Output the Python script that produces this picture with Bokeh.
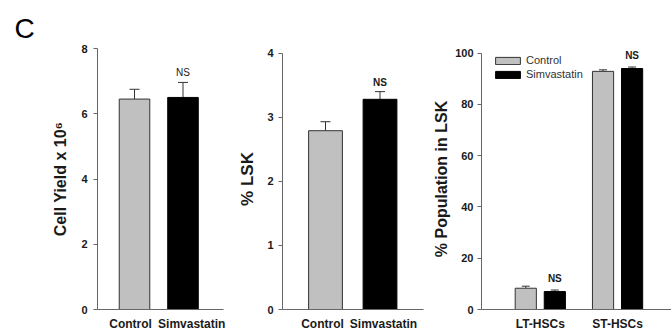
from bokeh.plotting import figure
from bokeh.models import (Range1d, FixedTicker, Whisker, TeeHead, ColumnDataSource,
                          LabelSet)
from bokeh.layouts import row
from bokeh.embed import file_html
from bokeh.resources import INLINE
from bokeh.core.properties import value

# ---------------- data ----------------
yield_cats = ["Control", "Simvastatin"]
yield_mean = [6.45, 6.50]
yield_err = [0.30, 0.46]
yield_sig = ["", "NS"]
yield_ticks = [0, 2, 4, 6, 8]

lsk_cats = ["Control", "Simvastatin"]
lsk_mean = [2.79, 3.28]
lsk_err = [0.14, 0.12]
lsk_sig = ["", "NS"]
lsk_ticks = [0, 1, 2, 3, 4]

pop_groups = ["LT-HSCs", "ST-HSCs"]
pop_series = ["Control", "Simvastatin"]
pop_control = [8.3, 92.9]
pop_control_err = [0.8, 0.6]
pop_simva = [7.0, 94.0]
pop_simva_err = [0.6, 0.6]
pop_sig = ["NS", "NS"]
pop_ticks = [0, 20, 40, 60, 80, 100]

FONT = "Liberation Sans"
CTRL_FILL = "#c0c0c0"
EDGE = "#333333"
AXIS = "#666666"
TXT = "#1a1a1a"
H = 333
TOP = 48
BOTTOM = 22
FRAME_H = H - TOP - BOTTOM


def base_fig(width, left, right, xr, y_end_px, ticks, ylabel, title_size,
             label_standoff, title_standoff):
    # y range chosen so that the top tick sits y_end_px below the frame top
    top_val = ticks[-1] * FRAME_H / (FRAME_H - y_end_px)
    p = figure(width=width, height=H, x_range=xr, y_range=Range1d(0, top_val),
               output_backend="svg", toolbar_location=None,
               min_border_left=left, min_border_right=right,
               min_border_top=TOP, min_border_bottom=BOTTOM)
    p.grid.visible = False
    p.outline_line_color = None
    p.background_fill_color = "white"
    p.border_fill_color = "white"
    ya = p.yaxis[0]
    ya.ticker = FixedTicker(ticks=ticks)
    ya.bounds = (ticks[0], ticks[-1])
    ya.minor_tick_line_color = None
    ya.major_tick_in = 0
    ya.major_tick_out = 4
    ya.axis_line_color = AXIS
    ya.major_tick_line_color = AXIS
    ya.major_label_text_font = FONT
    ya.major_label_text_font_style = "bold"
    ya.major_label_text_font_size = "11px"
    ya.major_label_text_color = TXT
    ya.major_label_standoff = label_standoff
    ya.axis_label = ylabel
    ya.axis_label_text_font = FONT
    ya.axis_label_text_font_style = "bold"
    ya.axis_label_text_font_size = title_size
    ya.axis_label_text_color = TXT
    ya.axis_label_standoff = title_standoff
    xa = p.xaxis[0]
    xa.minor_tick_line_color = None
    xa.major_tick_in = 0
    xa.major_tick_out = 0
    xa.axis_line_color = AXIS
    xa.major_label_text_font = FONT
    xa.major_label_text_font_style = "bold"
    xa.major_label_text_font_size = "12px"
    xa.major_label_text_color = TXT
    xa.major_label_standoff = 7
    return p


def add_errors(p, xs, means, errs, head=10):
    src = ColumnDataSource(dict(x=xs, lower=means,
                                upper=[m + e for m, e in zip(means, errs)]))
    w = Whisker(base="x", lower="lower", upper="upper", source=src,
                line_color=EDGE, line_width=1,
                upper_head=TeeHead(size=head, line_color=EDGE, line_width=1),
                lower_head=None)
    p.add_layout(w)


def add_sig(p, xs, means, errs, sig, off, bold, size="10px"):
    src = ColumnDataSource(dict(x=xs, y=[m + e + off for m, e in zip(means, errs)],
                                t=sig))
    ls = LabelSet(x="x", y="y", text="t", source=src, text_align="center",
                  text_baseline="middle", text_font=value(FONT),
                  text_font_size=value(size),
                  text_font_style=value("bold" if bold else "normal"),
                  text_color=TXT)
    p.add_layout(ls)


# ---------------- panel 1 ----------------
x1 = list(range(len(yield_cats)))
p1 = base_fig(226, 97, 3, Range1d(-0.763, 1.835), 0,
              yield_ticks, "Cell Yield x 10\u2076", "16px", 6, 9)
p1.vbar(x=x1, top=yield_mean, width=0.63, fill_color=[CTRL_FILL, "black"],
        line_color=[EDGE, "black"], line_width=1)
add_errors(p1, x1, yield_mean, yield_err)
add_sig(p1, x1, yield_mean, yield_err, yield_sig, 0.30, False)
lab1_pos = [x + d for x, d in zip(x1, [-0.08, 0.18])]
p1.xaxis[0].ticker = FixedTicker(ticks=lab1_pos)
p1.xaxis[0].major_label_overrides = {pos: c for pos, c in zip(lab1_pos, yield_cats)}
p1.title.text = "C"
p1.title.align = "left"
p1.title.offset = -83
p1.title.standoff = 6
p1.title.vertical_align = "top"
p1.title.text_font = FONT
p1.title.text_font_size = "28px"
p1.title.text_font_style = "normal"
p1.title.text_color = "black"

# ---------------- panel 2 ----------------
x2 = list(range(len(lsk_cats)))
p2 = base_fig(204, 56, 7, Range1d(-0.789, 1.798), 4.7,
              lsk_ticks, "% LSK", "17px", 5, 7)
p2.vbar(x=x2, top=lsk_mean, width=0.62, fill_color=[CTRL_FILL, "black"],
        line_color=[EDGE, "black"], line_width=1)
add_errors(p2, x2, lsk_mean, lsk_err)
add_sig(p2, x2, lsk_mean, lsk_err, lsk_sig, 0.15, True)
lab2_pos = [x + d for x, d in zip(x2, [-0.055, 0.064])]
p2.xaxis[0].ticker = FixedTicker(ticks=lab2_pos)
p2.xaxis[0].major_label_overrides = {pos: c for pos, c in zip(lab2_pos, lsk_cats)}

# ---------------- panel 3 ----------------
g3 = list(range(len(pop_groups)))
shift = 0.188
xc = [g - shift for g in g3]
xs = [g + shift for g in g3]
p3 = base_fig(241, 48, 0, Range1d(-0.761, 1.698), 4.7,
              pop_ticks, "% Population in LSK", "16px", 4, 2)
p3.vbar(x=xc, top=pop_control, width=0.274, fill_color=CTRL_FILL,
        line_color=EDGE, line_width=1, legend_label=pop_series[0])
p3.vbar(x=xs, top=pop_simva, width=0.274, fill_color="black",
        line_color="black", line_width=1, legend_label=pop_series[1])
add_errors(p3, xc, pop_control, pop_control_err, head=8)
add_errors(p3, xs, pop_simva, pop_simva_err, head=8)
add_sig(p3, xs, pop_simva, pop_simva_err, pop_sig, 4.4, True)
p3.xaxis[0].ticker = FixedTicker(ticks=g3)
p3.xaxis[0].major_label_overrides = {g: c for g, c in zip(g3, pop_groups)}
lg = p3.legend[0]
lg.location = (11, 228)
lg.margin = 0
lg.padding = 0
lg.spacing = 0
lg.glyph_width = 31
lg.glyph_height = 9
lg.label_height = 14
lg.label_standoff = 3
lg.label_text_font = FONT
lg.label_text_font_size = "11px"
lg.label_text_color = "#333333"
lg.background_fill_alpha = 0
lg.border_line_alpha = 0

layout = row(p1, p2, p3, spacing=0)
open("out.html", "w").write(file_html(layout, INLINE))
